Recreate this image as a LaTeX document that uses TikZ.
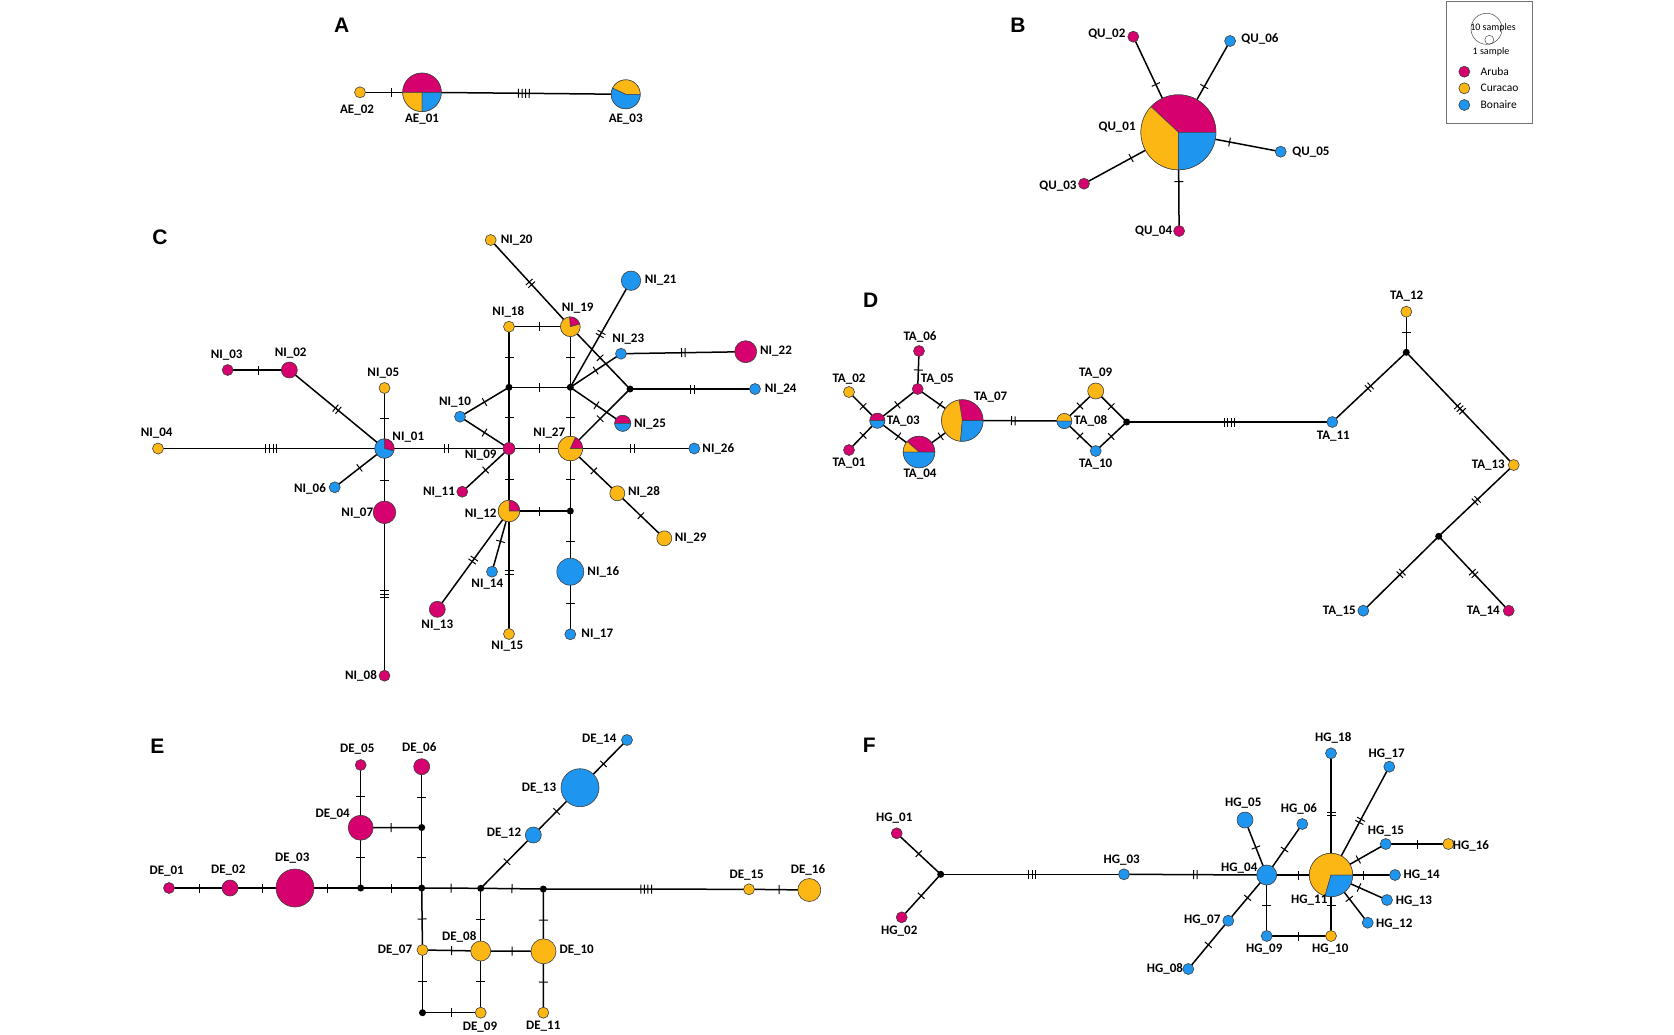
\documentclass[tikz,border=0pt]{standalone}
\usepackage{fontspec}
\setmainfont{Carlito}
\newfontfamily\letfont{Liberation Sans}
\usetikzlibrary{decorations.markings,backgrounds}
\definecolor{aru}{RGB}{214,0,110}
\definecolor{cur}{RGB}{253,183,20}
\definecolor{bon}{RGB}{30,150,240}
\tikzset{
 hapn/.style={circle, draw=black!75, line width=0.6pt, inner sep=0pt, outer sep=0pt},
 med/.style={circle, fill=black, inner sep=0pt, minimum size=7pt},
 lnk/.style={line width=1.5pt, black},
 lab/.style={font=\fontsize{13}{15}\selectfont\bfseries, inner sep=0pt},
 panel/.style={font=\letfont\fontsize{21}{24}\selectfont\bfseries, inner sep=0pt},
 lgt/.style={anchor=west, font=\fontsize{11.5}{13}\selectfont, inner sep=0pt},
 tk/.style 2 args={postaction={decorate,decoration={markings,mark=at position #2 with {\foreach \ti in {1,...,#1}{\draw[line width=1pt,black,solid] ({(\ti-(#1+1)/2)*3.6pt},-4.5pt) -- ++(0pt,9pt);}}}}},
}
\newcommand\hp[5]{\node[hapn, fill=#5, minimum size=#4*2pt] (#1) at (#2,#3) {};}
\newcommand\pn[5]{\node[hapn, minimum size=#4*2pt] (#1) at (#2,#3) {};
 \foreach \sa/\sb/\sc in {#5}{\filldraw[fill=\sc, draw=black!75, line width=0.5pt] (#1.center) -- ++(\sa:#4pt) arc[start angle=\sa, end angle=\sb, radius=#4pt] -- cycle;}}
\newcommand\md[3]{\node[med] (#1) at (#2,#3) {};}
\newcommand\lb[3]{\node[lab] (L#1) at (#2,#3) {\detokenize{#1}};}
\newcommand\eg[4][0.5]{\ifnum#4>0 \draw[lnk,tk={#4}{#1}] (#2.center)--(#3.center);\else\draw[lnk] (#2.center)--(#3.center);\fi}
\newcommand\pl[3]{\node[panel] (P#1) at (#2,#3) {#1};}
\begin{document}
\begin{tikzpicture}[x=1pt,y=-1pt]
\useasboundingbox (0,0) rectangle (1674,1034);
% ---------- A
\pl{A}{341.7}{25.7}
\hp{AE_02}{360}{92.3}{5.5}{cur}
\pn{AE_01}{422}{92.3}{19.3}{0/180/aru,180/270/cur,270/360/bon}
\pn{AE_03}{625.7}{94.3}{14.5}{0/155/cur,155/360/bon}
\lb{AE_02}{357}{110}\lb{AE_01}{422}{119}\lb{AE_03}{625.7}{119}
% ---------- B
\pl{B}{1017.9}{25}
\pn{QU_01}{1178.4}{132.3}{37.5}{0/137/aru,137/270/cur,270/360/bon}
\hp{QU_02}{1133.3}{36.7}{5.5}{aru}
\hp{QU_06}{1230.1}{41}{5.5}{bon}
\hp{QU_05}{1280.7}{151.7}{5.5}{bon}
\hp{QU_03}{1084}{183.7}{5.5}{aru}
\hp{QU_04}{1179.1}{231}{5.5}{aru}
\lb{QU_02}{1106.8}{34}\lb{QU_06}{1260}{39}\lb{QU_01}{1117.1}{127}\lb{QU_05}{1311}{152}\lb{QU_03}{1057.9}{186}\lb{QU_04}{1153.6}{231}
% legend
\node[draw=black!55, line width=0.8pt, minimum width=86pt, minimum height=122pt, inner sep=0pt] (legend) at (1489,62) {};
\node[circle, draw=black!70, line width=0.5pt, minimum size=31pt, inner sep=0pt] (lgbig) at (1486.5,28.8) {};
\node[circle, draw=black!70, line width=0.5pt, minimum size=9pt, inner sep=0pt] (lgsmall) at (1489.3,39.8) {};
\node[font=\fontsize{10}{11}\selectfont, inner sep=0pt] (lg10) at (1493,28) {10 samples};
\node[font=\fontsize{10}{11}\selectfont, inner sep=0pt] (lg1) at (1491,52) {1 sample};
\node[hapn, fill=aru, minimum size=11pt] (lga) at (1464.3,71.7) {};
\node[hapn, fill=cur, minimum size=11pt] (lgc) at (1464.3,88.3) {};
\node[hapn, fill=bon, minimum size=11pt] (lgb) at (1464.3,105) {};
\node[lgt] (lgat) at (1480.5,71.7) {Aruba};
\node[lgt] (lgct) at (1480.5,88.3) {Curacao};
\node[lgt] (lgbt) at (1480.5,105) {Bonaire};
% ---------- C
\pl{C}{160}{237.3}
\hp{NI_20}{490.7}{240}{5.5}{cur}
\hp{NI_18}{509}{326.7}{5.5}{cur}
\pn{NI_19}{570.3}{326.7}{9.8}{15/95/aru,95/375/cur}
\hp{NI_21}{631}{280.7}{9.7}{bon}
\hp{NI_03}{227.7}{370}{5.5}{aru}
\hp{NI_02}{289.3}{370}{8}{aru}
\hp{NI_23}{621}{353.7}{5.5}{bon}
\hp{NI_22}{745.7}{351.7}{11}{aru}
\hp{NI_05}{384.5}{388}{5.5}{cur}
\md{cTL}{509}{387.3}\md{cC}{570.3}{387.3}\md{cR}{630}{389}
\hp{NI_24}{755}{389}{5.5}{bon}
\hp{NI_10}{460}{416.7}{5.5}{bon}
\pn{NI_25}{622.7}{423.3}{8}{0/180/aru,180/360/bon}
\hp{NI_04}{158}{448.5}{5.5}{cur}
\pn{NI_01}{384.5}{448.5}{9.7}{-15/90/aru,90/345/bon}
\hp{NI_09}{509}{448.5}{6}{aru}
\pn{NI_27}{570.3}{448.5}{12.3}{0/66/aru,66/360/cur}
\hp{NI_26}{694.3}{448.5}{5.5}{bon}
\hp{NI_06}{334.7}{487.3}{5.5}{bon}
\hp{NI_11}{462.3}{491.7}{5.5}{aru}
\hp{NI_28}{617.3}{493.3}{7.5}{cur}
\hp{NI_07}{384.5}{512.3}{11.3}{aru}
\pn{NI_12}{509}{511}{10.8}{0/90/aru,90/360/cur}
\md{cL}{570.3}{511}
\hp{NI_29}{664.3}{538.3}{7.5}{cur}
\hp{NI_14}{492}{571.7}{5.5}{bon}
\hp{NI_16}{570.3}{571.7}{13.5}{bon}
\hp{NI_13}{437.3}{609.3}{8}{aru}
\hp{NI_15}{509}{634}{5.5}{cur}
\hp{NI_17}{570.3}{634.3}{5.5}{bon}
\hp{NI_08}{384.5}{675.7}{5.5}{aru}
\lb{NI_20}{516.7}{240}\lb{NI_18}{508.3}{311.7}\lb{NI_03}{226.7}{355}\lb{NI_02}{290.7}{353.3}
\lb{NI_05}{383.3}{373.3}\lb{NI_04}{156.7}{432.7}\lb{NI_01}{408.3}{437.3}\lb{NI_06}{310}{488.7}
\lb{NI_07}{357.3}{513.3}\lb{NI_08}{361}{675.7}\lb{NI_10}{455}{401.7}\lb{NI_09}{480.7}{455.3}
\lb{NI_11}{439}{492}\lb{NI_12}{480.7}{514}\lb{NI_13}{437.3}{625}\lb{NI_14}{487.3}{584.3}
\lb{NI_15}{507.3}{646}\lb{NI_19}{577.7}{308.3}\lb{NI_21}{660.7}{280}\lb{NI_23}{628.3}{339}
\lb{NI_22}{776}{351}\lb{NI_24}{780.7}{389.3}\lb{NI_25}{650}{424}\lb{NI_27}{549.3}{433.3}
\lb{NI_26}{718.3}{449.3}\lb{NI_28}{644}{492.3}\lb{NI_29}{690.7}{538.3}\lb{NI_16}{603.3}{571.7}
\lb{NI_17}{597.3}{634.3}
% ---------- D
\pl{D}{870.7}{300}
\hp{TA_06}{919}{351}{5.5}{aru}
\hp{TA_05}{917.7}{389}{5.5}{aru}
\hp{TA_02}{849}{392}{5.5}{cur}
\pn{TA_03}{877.3}{420.7}{7.5}{0/180/aru,180/360/bon}
\hp{TA_01}{849}{450}{5.5}{aru}
\pn{TA_04}{919}{452}{15.8}{0/139/aru,139/180/cur,180/360/bon}
\pn{TA_07}{962.3}{420.5}{20.8}{0/99/aru,99/265/cur,265/360/bon}
\pn{TA_08}{1064.3}{421}{7.5}{0/180/cur,180/360/bon}
\hp{TA_09}{1095.7}{391}{8}{cur}
\hp{TA_10}{1095.7}{451}{5.5}{bon}
\md{dB}{1126.7}{422}
\hp{TA_11}{1332.3}{422}{5.5}{bon}
\hp{TA_12}{1406.3}{311.7}{5.5}{cur}
\md{dT}{1406.3}{352.3}
\hp{TA_13}{1513.7}{465}{5.5}{cur}
\md{dL}{1438.7}{536.3}
\hp{TA_15}{1363.3}{610.7}{5.5}{bon}
\hp{TA_14}{1508.7}{610.7}{5.5}{aru}
\lb{TA_06}{920}{337.3}\lb{TA_02}{849}{379}\lb{TA_05}{937.3}{379.3}\lb{TA_03}{903.3}{421}
\lb{TA_01}{849}{463.3}\lb{TA_04}{920}{474}\lb{TA_07}{990.7}{397.3}\lb{TA_09}{1095.7}{373.3}
\lb{TA_08}{1090.7}{421}\lb{TA_10}{1095.7}{464.3}\lb{TA_12}{1406.7}{295.7}\lb{TA_11}{1333.3}{435.7}
\lb{TA_13}{1488.3}{465}\lb{TA_15}{1339.3}{610.7}\lb{TA_14}{1483.3}{610.7}
% ---------- E
\pl{E}{157.3}{746.7}
\hp{DE_01}{169}{888}{5.5}{aru}
\hp{DE_02}{230}{888}{8}{aru}
\hp{DE_03}{295}{888}{19}{aru}
\md{e1}{360.7}{888}
\hp{DE_04}{360.7}{827.7}{12.5}{aru}
\hp{DE_05}{360.7}{765}{5.5}{aru}
\hp{DE_06}{421.7}{766.7}{8}{aru}
\md{e2}{421.7}{827.5}\md{e3}{421.7}{888}\md{e4}{480.7}{888.3}\md{e5}{543.3}{889}
\hp{DE_07}{422.5}{950}{5.5}{cur}
\hp{DE_08}{480.7}{951}{10}{cur}
\hp{DE_10}{543.5}{951.3}{12.5}{cur}
\md{e6}{422.5}{1012.7}
\hp{DE_09}{480.7}{1012.7}{5.5}{cur}
\hp{DE_11}{543.3}{1012.7}{5.5}{cur}
\hp{DE_12}{533.3}{835}{8}{bon}
\hp{DE_13}{580}{787.7}{19}{bon}
\hp{DE_14}{627}{740}{5.5}{bon}
\hp{DE_15}{749}{889.3}{5.5}{cur}
\hp{DE_16}{809.3}{890}{11.5}{cur}
\lb{DE_05}{357.3}{749.3}\lb{DE_06}{419.3}{748.3}\lb{DE_04}{332.7}{814.3}\lb{DE_03}{292.3}{857.7}
\lb{DE_01}{166.7}{870.7}\lb{DE_02}{228.3}{870}\lb{DE_13}{539}{787.7}\lb{DE_12}{504}{833.3}
\lb{DE_14}{599.3}{739}\lb{DE_07}{395}{950}\lb{DE_08}{459.3}{936.7}\lb{DE_10}{576.7}{950}
\lb{DE_09}{480}{1026.7}\lb{DE_11}{543.3}{1026}\lb{DE_15}{746.7}{875}\lb{DE_16}{808}{870}
% ---------- F
\pl{F}{869.3}{745.7}
\hp{HG_01}{896.7}{833.3}{5.5}{aru}
\hp{HG_02}{901.7}{917.3}{5.5}{aru}
\md{fB}{940.7}{874.3}
\hp{HG_03}{1124}{874.3}{5.5}{bon}
\hp{HG_04}{1266.7}{875}{10}{bon}
\pn{HG_11}{1331}{875}{21.7}{0/254/cur,254/360/bon}
\hp{HG_18}{1331}{753.3}{5.5}{bon}
\hp{HG_17}{1389.3}{766.7}{5.5}{bon}
\hp{HG_05}{1245}{820}{8}{bon}
\hp{HG_06}{1302.3}{824}{5.5}{bon}
\hp{HG_15}{1385.7}{844}{5.5}{bon}
\hp{HG_16}{1448.3}{844}{5.5}{cur}
\hp{HG_14}{1395}{875}{5.5}{bon}
\hp{HG_13}{1387}{900}{5.5}{bon}
\hp{HG_12}{1367.7}{922.7}{5.5}{bon}
\hp{HG_07}{1228.3}{920.7}{5.5}{bon}
\hp{HG_08}{1188.3}{969}{5.5}{bon}
\hp{HG_09}{1266.7}{936}{5.5}{bon}
\hp{HG_10}{1331}{936}{5.5}{cur}
\lb{HG_01}{894.3}{817.7}\lb{HG_02}{899.3}{931}\lb{HG_03}{1121.7}{860}\lb{HG_18}{1333.3}{738.3}
\lb{HG_17}{1386.7}{754}\lb{HG_05}{1243.3}{803.3}\lb{HG_06}{1299}{809}\lb{HG_15}{1386}{830.7}
\lb{HG_16}{1471}{845.5}\lb{HG_04}{1239.3}{868.3}\lb{HG_14}{1421.7}{875}\lb{HG_11}{1309.3}{900}
\lb{HG_13}{1414}{900.7}\lb{HG_12}{1394.3}{924}\lb{HG_07}{1202.3}{920}\lb{HG_09}{1264.3}{949}
\lb{HG_10}{1330.3}{949}\lb{HG_08}{1165}{969}
% ---------- edges
\begin{pgfonlayer}{background}
\fill[white] (0,0) rectangle (1674,1034);
\eg{AE_02}{AE_01}{1}\eg{AE_01}{AE_03}{4}
\eg{QU_02}{QU_01}{1}\eg{QU_06}{QU_01}{1}\eg{QU_05}{QU_01}{1}\eg{QU_03}{QU_01}{1}\eg{QU_04}{QU_01}{1}
\eg{NI_03}{NI_02}{1}\eg{NI_02}{NI_01}{2}\eg{NI_05}{NI_01}{1}\eg{NI_04}{NI_01}{4}\eg{NI_06}{NI_01}{1}
\eg{NI_01}{NI_07}{1}\eg{NI_07}{NI_08}{3}\eg{NI_01}{NI_09}{2}\eg{NI_10}{cTL}{1}\eg{NI_10}{NI_09}{1}
\eg{NI_09}{cTL}{1}\eg{cTL}{NI_18}{1}\eg{NI_18}{NI_19}{1}\eg{cTL}{cC}{1}\eg{NI_19}{cC}{1}
\eg{NI_20}{NI_19}{2}\eg{NI_19}{cR}{1}\eg{cC}{NI_21}{2}\eg{cC}{NI_23}{1}\eg{NI_23}{NI_22}{2}
\eg{cR}{NI_24}{2}\eg{cC}{NI_25}{1}\eg{cR}{NI_27}{1}\eg{cC}{NI_27}{1}\eg{NI_09}{NI_27}{1}
\eg{NI_27}{NI_26}{2}\eg{NI_27}{NI_28}{1}\eg{NI_28}{NI_29}{1}\eg{NI_27}{cL}{1}\eg{cL}{NI_16}{1}
\eg{NI_16}{NI_17}{1}\eg{NI_12}{cL}{1}\eg{NI_09}{NI_11}{1}\eg{NI_09}{NI_12}{1}\eg{NI_12}{NI_13}{2}
\eg{NI_12}{NI_14}{1}\eg{NI_12}{NI_15}{2}
\eg{TA_02}{TA_03}{1}\eg{TA_01}{TA_03}{1}\eg{TA_03}{TA_05}{1}\eg{TA_05}{TA_06}{1}\eg{TA_05}{TA_07}{1}
\eg{TA_03}{TA_04}{1}\eg{TA_04}{TA_07}{1}\eg{TA_07}{TA_08}{2}\eg{TA_08}{TA_09}{1}\eg{TA_08}{TA_10}{1}
\eg{TA_09}{dB}{1}\eg{TA_10}{dB}{1}\eg{dB}{TA_11}{4}\eg{TA_11}{dT}{2}\eg{TA_12}{dT}{1}\eg{dT}{TA_13}{3}
\eg{TA_13}{dL}{2}\eg{dL}{TA_15}{2}\eg{dL}{TA_14}{2}
\eg{DE_01}{DE_02}{1}\eg{DE_02}{DE_03}{1}\eg{DE_03}{e1}{1}\eg{e1}{DE_04}{1}\eg{DE_04}{DE_05}{1}
\eg{DE_04}{e2}{1}\eg{e2}{DE_06}{1}\eg{e2}{e3}{1}\eg{e1}{e3}{1}\eg{e3}{e4}{1}\eg{e4}{DE_12}{1}
\eg{DE_12}{DE_13}{1}\eg{DE_13}{DE_14}{1}\eg{e4}{e5}{1}\eg{e5}{DE_15}{4}\eg{DE_15}{DE_16}{1}
\eg{e3}{DE_07}{1}\eg{DE_07}{DE_08}{1}\eg{DE_08}{DE_10}{1}\eg{e4}{DE_08}{1}\eg{e5}{DE_10}{1}
\eg{DE_07}{e6}{1}\eg{e6}{DE_09}{1}\eg{DE_08}{DE_09}{1}\eg{DE_10}{DE_11}{1}
\eg{HG_01}{fB}{1}\eg{HG_02}{fB}{1}\eg{fB}{HG_03}{3}\eg{HG_03}{HG_04}{2}
\eg{HG_04}{HG_11}{1}\eg{HG_04}{HG_05}{1}\eg{HG_04}{HG_06}{1}\eg{HG_04}{HG_07}{1}\eg{HG_07}{HG_08}{1}
\eg{HG_04}{HG_09}{1}\eg{HG_09}{HG_10}{1}\eg{HG_10}{HG_11}{1}\eg{HG_11}{HG_18}{2}\eg{HG_11}{HG_17}{2}
\eg{HG_11}{HG_15}{1}\eg{HG_15}{HG_16}{1}\eg{HG_11}{HG_14}{1}\eg{HG_11}{HG_13}{1}\eg{HG_11}{HG_12}{1}
\end{pgfonlayer}
\end{tikzpicture}
\end{document}
